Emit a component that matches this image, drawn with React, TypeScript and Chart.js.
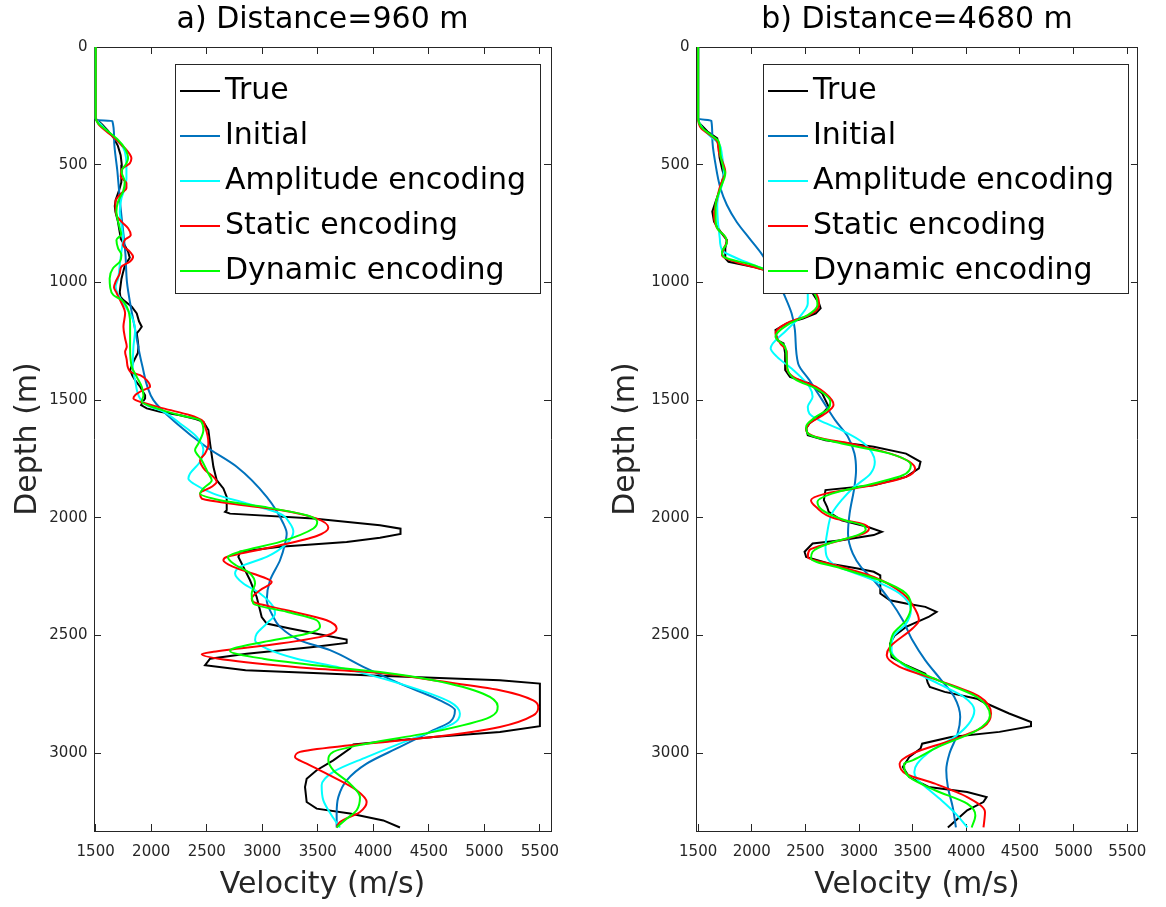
import React, { useEffect, useRef } from 'react';
import { Chart, registerables } from 'chart.js';

Chart.register(...registerables);

const FONT = "'DejaVu Sans', 'Liberation Sans', sans-serif";

// Series names / colours (legend order)
const seriesNames = ['True', 'Initial', 'Amplitude encoding', 'Static encoding', 'Dynamic encoding'];
const seriesColors = ['#000000', '#0072BD', '#00FFFF', '#FF0000', '#00FF00'];

// Axis ranges and tick labels
const depthMax = 3330;
const velMax = 5600;
const xTickValues = [1500, 2000, 2500, 3000, 3500, 4000, 4500, 5000, 5500];
const yTickValues = [0, 500, 1000, 1500, 2000, 2500, 3000];

// ---------- Panel a) Distance = 960 m : [depth (m), velocity (m/s)] ----------
const trueA: number[][] = [
  [0,1500],[305,1500],[312,1520],[330,1560],[355,1610],[385,1660],[420,1700],[460,1725],[500,1735],[540,1732],
  [575,1730],[610,1710],[650,1680],[675,1672],[700,1678],[740,1700],[790,1718],[815,1726],[845,1765],[870,1792],
  [895,1807],[915,1780],[930,1762],[960,1745],[985,1732],[1040,1717],[1060,1722],[1075,1750],[1103,1825],[1132,1870],
  [1165,1890],[1188,1915],[1205,1890],[1216,1870],[1250,1880],[1273,1885],[1300,1880],[1337,1840],[1372,1810],[1395,1830],
  [1415,1855],[1443,1900],[1479,1945],[1493,1945],[1510,1920],[1521,1909],[1535,1960],[1549,2080],[1564,2260],[1580,2400],
  [1592,2470],[1627,2515],[1684,2530],[1783,2560],[1840,2590],[1875,2650],[1911,2680],[1967,2680],[1974,2665],[1982,2710],
  [2003,3460],[2031,4060],[2046,4245],[2068,4245],[2084,4060],[2102,3760],[2123,3160],[2144,2800],[2166,2785],[2208,2830],
  [2265,2890],[2336,2950],[2392,2980],[2421,2995],[2449,3040],[2470,3250],[2506,3640],[2517,3760],[2531,3760],[2548,3460],
  [2577,2860],[2598,2530],[2626,2485],[2647,2850],[2659,3460],[2669,3990],[2690,5140],[2704,5500],[2885,5500],[2909,5140],
  [2931,4540],[2962,3820],[2980,3790],[3030,3640],[3072,3490],[3108,3400],[3143,3385],[3207,3400],[3235,3490],[3256,3790],
  [3285,4090],[3315,4240],
];
const initialA: number[][] = [
  [0,1500],[310,1500],[314,1650],[390,1666],[530,1696],[670,1722],[880,1768],[1000,1782],[1100,1815],[1200,1855],
  [1344,1915],[1500,2020],[1599,2230],[1700,2500],[1783,2770],[1911,3040],[2024,3190],[2066,3220],[2110,3205],[2180,3160],
  [2265,3070],[2350,3040],[2407,3085],[2463,3160],[2520,3340],[2562,3610],[2633,3910],[2704,4240],[2775,4600],[2817,4735],
  [2867,4690],[2902,4540],[2973,4240],[3044,3940],[3115,3760],[3186,3685],[3256,3670],[3315,3670],
];
const amplitudeA: number[][] = [
  [0,1500],[303,1500],[331,1552],[374,1642],[416,1732],[444,1762],[501,1777],[558,1777],[600,1762],[643,1732],
  [699,1717],[756,1732],[813,1747],[869,1732],[926,1717],[983,1702],[1018,1680],[1089,1750],[1146,1825],[1202,1855],
  [1273,1840],[1358,1834],[1415,1855],[1493,1900],[1521,1960],[1549,2110],[1599,2260],[1656,2410],[1712,2470],[1762,2440],
  [1812,2350],[1833,2335],[1854,2380],[1897,2560],[1939,2860],[1982,3160],[2024,3250],[2059,3280],[2109,3220],[2166,3040],
  [2208,2800],[2236,2755],[2279,2830],[2321,2980],[2378,3100],[2407,3115],[2449,3040],[2492,2950],[2520,2935],[2555,3040],
  [2598,3310],[2636,3700],[2704,4240],[2782,4690],[2832,4780],[2874,4720],[2931,4390],[3016,3940],[3079,3640],[3136,3535],
  [3200,3550],[3264,3625],[3315,3700],
];
const staticA: number[][] = [
  [0,1500],[303,1500],[310,1507],[331,1530],[360,1600],[381,1656],[416,1732],[437,1777],[473,1822],[494,1807],
  [522,1732],[551,1726],[579,1777],[600,1777],[621,1732],[657,1678],[713,1687],[742,1732],[770,1792],[799,1816],
  [820,1762],[841,1747],[869,1807],[891,1837],[912,1807],[933,1732],[961,1717],[997,1680],[1020,1665],[1046,1690],
  [1075,1720],[1131,1765],[1188,1750],[1238,1765],[1273,1780],[1294,1765],[1330,1780],[1379,1810],[1394,1900],[1415,1960],
  [1443,1990],[1457,1930],[1479,1855],[1493,1840],[1507,1900],[1535,2110],[1564,2350],[1585,2455],[1613,2485],[1684,2515],
  [1727,2485],[1755,2440],[1797,2485],[1826,2560],[1847,2590],[1868,2545],[1897,2440],[1918,2455],[1939,2710],[1967,3160],
  [2003,3490],[2042,3595],[2077,3490],[2123,3100],[2166,2680],[2180,2650],[2208,2740],[2258,3040],[2272,3085],[2307,2980],
  [2343,2905],[2357,2920],[2392,3220],[2435,3580],[2470,3670],[2499,3580],[2534,3160],[2569,2560],[2579,2455],[2605,2710],
  [2640,3460],[2659,4060],[2690,4540],[2732,5140],[2775,5440],[2803,5485],[2839,5440],[2888,5140],[2931,4540],[2966,3790],
  [2994,3340],[3016,3295],[3044,3400],[3101,3640],[3157,3850],[3207,3940],[3249,3880],[3292,3700],[3315,3670],
];
const dynamicA: number[][] = [
  [0,1500],[303,1500],[324,1522],[359,1612],[395,1702],[430,1762],[473,1792],[494,1777],[529,1732],[572,1762],
  [614,1747],[657,1702],[699,1687],[770,1717],[795,1730],[820,1687],[855,1702],[883,1732],[912,1717],[940,1656],
  [983,1626],[1018,1630],[1054,1660],[1075,1735],[1103,1780],[1174,1810],[1273,1810],[1358,1825],[1401,1870],[1443,1915],
  [1479,1930],[1507,1915],[1535,2050],[1564,2260],[1585,2440],[1627,2470],[1684,2425],[1712,2395],[1755,2455],[1812,2515],
  [1840,2545],[1875,2470],[1897,2440],[1925,2620],[1953,3010],[1989,3400],[2017,3495],[2045,3460],[2102,3160],[2144,2800],
  [2166,2690],[2194,2740],[2236,2890],[2279,2935],[2321,2905],[2364,2920],[2399,3220],[2435,3490],[2463,3520],[2492,3400],
  [2527,3010],[2555,2740],[2565,2710],[2598,3010],[2633,3610],[2655,4060],[2690,4540],[2747,4990],[2800,5120],[2846,5050],
  [2909,4540],[2959,3940],[2994,3640],[3030,3595],[3072,3640],[3129,3790],[3186,3880],[3242,3850],[3278,3760],[3315,3670],
];

// ---------- Panel b) Distance = 4680 m : [depth (m), velocity (m/s)] ----------
const trueB: number[][] = [
  [0,1500],[305,1500],[324,1512],[359,1587],[388,1678],[430,1692],[470,1700],[515,1722],[544,1738],[600,1708],
  [657,1663],[699,1632],[742,1648],[784,1708],[820,1768],[855,1753],[898,1753],[912,1783],[933,2008],[954,2173],
  [990,2400],[1020,2520],[1046,2567],[1089,2627],[1110,2642],[1131,2597],[1153,2477],[1174,2326],[1202,2221],[1245,2236],
  [1259,2296],[1301,2311],[1372,2311],[1401,2356],[1429,2537],[1472,2657],[1528,2717],[1557,2657],[1599,2537],[1620,2507],
  [1649,2522],[1670,2687],[1698,3137],[1727,3438],[1762,3573],[1790,3558],[1826,3438],[1861,3137],[1882,2687],[1925,2672],
  [1953,2702],[1974,2717],[2010,2837],[2038,3077],[2059,3212],[2073,3137],[2095,2837],[2109,2567],[2144,2492],[2166,2507],
  [2194,2717],[2215,2987],[2229,3137],[2244,3198],[2321,3198],[2350,3288],[2364,3438],[2378,3618],[2399,3723],[2421,3648],
  [2463,3438],[2499,3333],[2534,3288],[2591,3303],[2626,3438],[2662,3618],[2700,3640],[2718,3660],[2739,3798],[2768,4099],
  [2782,4157],[2831,4399],[2867,4603],[2885,4603],[2909,4309],[2931,3858],[2959,3588],[2980,3573],[3016,3468],[3058,3408],
  [3101,3468],[3143,3648],[3164,4008],[3186,4189],[3207,4159],[3242,4008],[3315,3828],
];
const initialB: number[][] = [
  [0,1500],[305,1500],[313,1623],[388,1632],[501,1663],[600,1708],[671,1768],[742,1858],[813,1978],[883,2098],
  [940,2173],[1000,2250],[1046,2296],[1131,2371],[1202,2402],[1344,2432],[1415,2537],[1500,2657],[1585,2777],[1656,2897],
  [1727,2957],[1797,2972],[1868,2957],[1981,2912],[2066,2897],[2152,2942],[2208,3017],[2265,3137],[2350,3288],[2435,3408],
  [2520,3498],[2605,3618],[2690,3768],[2761,3888],[2846,3943],[2916,3919],[3001,3843],[3072,3813],[3143,3828],[3228,3873],
  [3315,3903],
];
const amplitudeB: number[][] = [
  [0,1500],[305,1500],[345,1542],[381,1617],[409,1692],[458,1722],[529,1738],[586,1722],[628,1692],[671,1678],
  [742,1684],[813,1702],[841,1708],[869,1738],[954,2173],[1000,2400],[1046,2522],[1089,2522],[1146,2446],[1202,2326],
  [1280,2176],[1316,2236],[1372,2386],[1443,2537],[1486,2567],[1528,2522],[1557,2537],[1585,2627],[1627,2837],[1684,3047],
  [1762,3147],[1812,3107],[1868,2957],[1925,2837],[1982,2747],[2066,2702],[2123,2687],[2166,2700],[2201,2777],[2265,3137],
  [2321,3378],[2392,3483],[2449,3438],[2506,3318],[2562,3303],[2633,3438],[2704,3738],[2761,3978],[2817,4075],[2874,4024],
  [2931,3888],[2987,3678],[3044,3543],[3080,3515],[3110,3540],[3143,3620],[3200,3770],[3256,3900],[3315,4010],
];
const staticB: number[][] = [
  [0,1500],[303,1500],[345,1527],[376,1617],[402,1678],[444,1692],[501,1738],[529,1753],[586,1708],[671,1663],
  [713,1648],[770,1678],[799,1738],[827,1768],[855,1738],[883,1722],[919,1888],[954,2173],[1000,2450],[1046,2597],
  [1096,2627],[1139,2537],[1167,2356],[1216,2221],[1259,2266],[1294,2326],[1358,2326],[1401,2386],[1443,2597],[1500,2747],
  [1521,2762],[1557,2687],[1599,2537],[1627,2507],[1656,2597],[1691,2987],[1741,3378],[1790,3522],[1826,3438],[1861,3137],
  [1897,2687],[1925,2552],[1953,2597],[2003,2777],[2024,3017],[2045,3092],[2066,3047],[2102,2777],[2137,2537],[2166,2522],
  [2201,2777],[2251,3137],[2321,3408],[2392,3528],[2435,3558],[2470,3498],[2548,3288],[2584,3258],[2633,3378],[2690,3738],
  [2761,4129],[2831,4230],[2888,4159],[2945,3858],[3001,3498],[3044,3378],[3087,3438],[3129,3708],[3186,4008],[3249,4174],
  [3315,4160],
];
const dynamicB: number[][] = [
  [0,1500],[303,1500],[338,1527],[373,1617],[402,1692],[458,1708],[515,1738],[536,1753],[600,1708],[671,1663],
  [728,1663],[770,1678],[806,1753],[834,1768],[869,1722],[891,1738],[926,2008],[954,2173],[1000,2440],[1046,2582],
  [1096,2612],[1139,2522],[1174,2356],[1231,2221],[1273,2311],[1330,2326],[1379,2341],[1415,2416],[1450,2597],[1507,2732],
  [1535,2717],[1571,2597],[1613,2507],[1642,2522],[1684,2837],[1727,3288],[1776,3483],[1819,3408],[1854,3137],[1897,2747],
  [1932,2612],[1967,2657],[2010,2867],[2031,3032],[2050,3062],[2073,2987],[2109,2717],[2144,2567],[2173,2552],[2215,2837],
  [2265,3198],[2321,3438],[2378,3483],[2435,3438],[2492,3318],[2562,3288],[2619,3408],[2690,3738],[2761,4099],[2839,4220],
  [2902,4099],[2973,3738],[3030,3498],[3044,3420],[3101,3468],[3157,3708],[3214,4008],[3264,4084],[3315,4050],
];

const panelA = {
  title: 'a) Distance=960 m',
  xMin: 1485,
  series: [trueA, initialA, amplitudeA, staticA, dynamicA],
  layout: { yAxisWidth: 94, yTitlePad: 10, padRight: 32, legendRightGap: 11 },
};
const panelB = {
  title: 'b) Distance=4680 m',
  xMin: 1480,
  series: [trueB, initialB, amplitudeB, staticB, dynamicB],
  layout: { yAxisWidth: 113, yTitlePad: 25, padRight: 13, legendRightGap: 10 },
};

const AXIS_COLOR = '#262626';

const legendBoxPlugin = {
  id: 'legendBox',
  afterDraw(chart: any, _args: any, opts: any) {
    const { ctx, chartArea } = chart;
    const datasets = chart.data.datasets;
    ctx.save();
    ctx.font = `30px ${FONT}`;
    let maxW = 0;
    datasets.forEach((ds: any) => { maxW = Math.max(maxW, ctx.measureText(ds.label).width); });
    const w = Math.round(50 + maxW + 14);
    const h = 229;
    const right = Math.round(chartArea.right - opts.rightGap);
    const left = right - w;
    const top = Math.round(chartArea.top + 17);
    ctx.fillStyle = '#ffffff';
    ctx.fillRect(left, top, w, h);
    ctx.strokeStyle = AXIS_COLOR;
    ctx.lineWidth = 1;
    ctx.strokeRect(left + 0.5, top + 0.5, w, h);
    datasets.forEach((ds: any, i: number) => {
      const y = top + 27 + i * 45;
      ctx.strokeStyle = ds.borderColor;
      ctx.lineWidth = 2;
      ctx.beginPath();
      ctx.moveTo(left + 5, y);
      ctx.lineTo(left + 45, y);
      ctx.stroke();
      ctx.fillStyle = '#000000';
      ctx.textAlign = 'left';
      ctx.textBaseline = 'middle';
      ctx.fillText(ds.label, left + 50, y);
    });
    ctx.restore();
  },
};

function setTicks(values: number[]) {
  return (s: any) => { s.ticks = values.map((v) => ({ value: v })); };
}

function makeConfig(panel: any): any {
  const L = panel.layout;
  const tickFont = { family: FONT, size: 15 };
  const titleFont = { family: FONT, size: 30, weight: 'normal' };
  const grid = { drawOnChartArea: false, drawTicks: true, tickLength: -7, color: AXIS_COLOR, lineWidth: 1 };
  const border = { display: true, color: AXIS_COLOR, width: 1 };
  const fmt = (v: any) => String(v);
  return {
    type: 'line',
    data: {
      datasets: panel.series.map((s: number[][], i: number) => ({
        label: seriesNames[i],
        data: s.map(([d, v]) => ({ x: v, y: d })),
        borderColor: seriesColors[i],
        backgroundColor: seriesColors[i],
        borderWidth: 2,
        pointRadius: 0,
        fill: false,
        tension: 0,
        cubicInterpolationMode: i === 0 ? 'default' : 'monotone',
        order: 5 - i,
      })),
    },
    options: {
      indexAxis: 'y',
      responsive: false,
      animation: false,
      events: [],
      layout: { padding: { left: 0, right: L.padRight, top: 0, bottom: 0 } },
      plugins: {
        legend: { display: false },
        tooltip: { enabled: false },
        title: {
          display: true,
          text: panel.title,
          font: titleFont,
          color: '#000000',
          padding: { top: 2, bottom: 9 },
          fullSize: false,
        },
        legendBox: { rightGap: L.legendRightGap },
      },
      scales: {
        x: {
          type: 'linear',
          position: 'bottom',
          min: panel.xMin,
          max: velMax,
          afterBuildTicks: setTicks(xTickValues),
          afterFit: (s: any) => { s.height = 76; },
          ticks: { autoSkip: false, maxRotation: 0, font: tickFont, color: AXIS_COLOR, padding: 19, callback: fmt },
          grid,
          border,
          title: { display: true, text: 'Velocity (m/s)', font: titleFont, color: AXIS_COLOR, padding: { top: 0, bottom: 4 } },
        },
        x2: {
          type: 'linear',
          position: 'top',
          min: panel.xMin,
          max: velMax,
          afterBuildTicks: setTicks(xTickValues),
          afterFit: (s: any) => { s.height = 0; },
          ticks: { display: false },
          grid,
          border,
        },
        y: {
          type: 'linear',
          position: 'left',
          reverse: true,
          min: 0,
          max: depthMax,
          afterBuildTicks: setTicks(yTickValues),
          afterFit: (s: any) => { s.width = L.yAxisWidth; },
          ticks: { autoSkip: false, font: tickFont, color: AXIS_COLOR, padding: 13.5, callback: fmt },
          grid,
          border,
          title: { display: true, text: 'Depth (m)', font: titleFont, color: AXIS_COLOR, padding: { top: L.yTitlePad, bottom: 0 } },
        },
        y2: {
          type: 'linear',
          position: 'right',
          reverse: true,
          min: 0,
          max: depthMax,
          afterBuildTicks: setTicks(yTickValues),
          afterFit: (s: any) => { s.width = 0; },
          ticks: { display: false },
          grid,
          border,
        },
      },
    },
    plugins: [legendBoxPlugin],
  };
}

function Panel({ panel, left }: { panel: any; left: number }) {
  const ref = useRef<HTMLCanvasElement>(null);
  useEffect(() => {
    const chart = new Chart(ref.current as HTMLCanvasElement, makeConfig(panel));
    return () => chart.destroy();
  }, [panel]);
  return (
    <canvas
      ref={ref}
      width={583}
      height={907}
      style={{ position: 'absolute', left, top: 0, width: 583, height: 907 }}
    />
  );
}

export default function App() {
  return (
    <div style={{ position: 'absolute', left: 0, top: 0, width: 1166, height: 907, background: '#ffffff', overflow: 'hidden' }}>
      <Panel panel={panelA} left={0} />
      <Panel panel={panelB} left={583} />
    </div>
  );
}
